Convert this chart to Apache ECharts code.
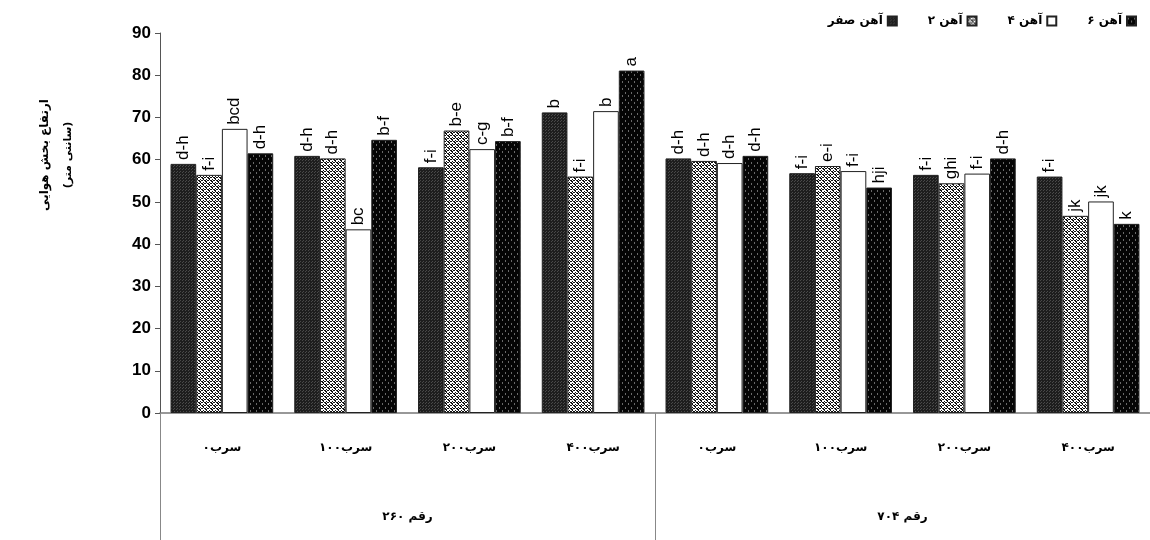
<!DOCTYPE html>
<html>
<head>
<meta charset="utf-8">
<script src="https://cdn.jsdelivr.net/npm/echarts@6/dist/echarts.min.js"></script>
<style>
html,body{margin:0;padding:0;background:#fff;}
#main{width:1150px;height:540px;}
</style>
</head>
<body>
<div id="main"></div>
<script>
// ---- data ----
const categories = ['سرب۰', 'سرب۱۰۰', 'سرب۲۰۰', 'سرب۴۰۰', 'سرب۰', 'سرب۱۰۰', 'سرب۲۰۰', 'سرب۴۰۰'];
const groups = ['رقم ۲۶۰', 'رقم ۷۰۴'];
const seriesNames = ['آهن صفر', 'آهن ۲', 'آهن ۴', 'آهن ۶'];
const iron0 = [59.0, 60.9, 58.2, 71.2, 60.3, 56.8, 56.4, 56.0];
const iron2 = [56.4, 60.3, 66.9, 56.0, 59.7, 58.5, 54.4, 46.7];
const iron4 = [67.3, 43.5, 62.5, 71.5, 59.2, 57.3, 56.7, 50.1];
const iron6 = [61.5, 64.7, 64.4, 81.1, 60.9, 53.4, 60.3, 44.8];
const letters0 = ['d-h', 'd-h', 'f-i', 'b', 'd-h', 'f-i', 'f-i', 'f-i'];
const letters2 = ['f-i', 'd-h', 'b-e', 'f-i', 'd-h', 'e-i', 'ghi', 'jk'];
const letters4 = ['bcd', 'bc', 'c-g', 'b', 'd-h', 'f-i', 'f-i', 'jk'];
const letters6 = ['d-h', 'b-f', 'b-f', 'a', 'd-h', 'hji', 'd-h', 'k'];
const yTicks = {min: 0, max: 90, interval: 10};

// ---- patterns ----
function makePattern(w, h, draw) {
  const c = document.createElement('canvas');
  c.width = w; c.height = h;
  const ctx = c.getContext('2d');
  draw(ctx);
  return {image: c, repeat: 'repeat'};
}
const pat0 = makePattern(3, 3, ctx => {
  ctx.fillStyle = '#1e1e1e'; ctx.fillRect(0, 0, 3, 3);
  ctx.fillStyle = '#4a4a4a'; ctx.fillRect(0, 0, 1, 1); ctx.fillRect(2, 1, 1, 1);
});
const pat2 = makePattern(6, 6, ctx => {
  ctx.fillStyle = '#ffffff'; ctx.fillRect(0, 0, 6, 6);
  ctx.fillStyle = '#111111';
  ctx.fillRect(0, 0, 2, 1); ctx.fillRect(1, 1, 2, 1); ctx.fillRect(3, 0, 2, 1);
  ctx.fillRect(3, 3, 2, 1); ctx.fillRect(4, 4, 2, 1); ctx.fillRect(0, 3, 2, 1);
  ctx.fillRect(2, 2, 1, 1); ctx.fillRect(5, 5, 1, 1); ctx.fillRect(5, 2, 1, 1); ctx.fillRect(2, 5, 1, 1);
});
const pat6 = makePattern(6, 7, ctx => {
  ctx.fillStyle = '#050505'; ctx.fillRect(0, 0, 6, 7);
  ctx.fillStyle = '#6a6a6a';
  ctx.fillRect(1, 1, 1, 2);
  ctx.fillRect(4, 4, 1, 2);
});

const fillList = [pat0, pat2, '#ffffff', pat6];
const valueList = [iron0, iron2, iron4, iron6];
const letterList = [letters0, letters2, letters4, letters6];

const chart = echarts.init(document.getElementById('main'));
const series = seriesNames.map((name, i) => ({
  name: name,
  type: 'bar',
  barGap: '0%',
  barCategoryGap: '17%',
  itemStyle: {color: fillList[i], borderColor: '#222', borderWidth: 1},
  label: {
    show: true,
    position: 'top',
    distance: 4,
    rotate: 90,
    align: 'left',
    verticalAlign: 'middle',
    fontFamily: 'Liberation Sans, Arial, sans-serif',
    fontSize: 17,
    color: '#000',
    formatter: p => letterList[i][p.dataIndex]
  },
  data: valueList[i]
}));

chart.setOption({
  animation: false,
  backgroundColor: '#fff',
  grid: {left: 160, right: 0, top: 33, bottom: 127},
  legend: {
    data: seriesNames,
    right: 8,
    top: 10,
    align: 'right',
    icon: 'rect',
    itemWidth: 9,
    itemHeight: 9,
    itemGap: 30,
    textStyle: {fontFamily: 'DejaVu Sans', fontWeight: 'bold', fontSize: 12, color: '#000'}
  },
  xAxis: [
    {
      type: 'category',
      data: categories,
      position: 'bottom',
      axisLine: {show: true, lineStyle: {color: '#777', width: 1.5}},
      axisTick: {show: false},
      axisLabel: {
        margin: 29,
        fontFamily: 'DejaVu Sans',
        fontWeight: 'bold',
        fontSize: 12,
        color: '#000'
      }
    },
    {
      type: 'category',
      data: groups,
      position: 'bottom',
      gridIndex: 0,
      axisLine: {show: false},
      axisTick: {show: true, length: 127, lineStyle: {color: '#888', width: 1}},
      axisLabel: {
        margin: 98,
        fontFamily: 'DejaVu Sans',
        fontWeight: 'bold',
        fontSize: 12,
        color: '#000'
      }
    }
  ],
  yAxis: {
    type: 'value',
    min: yTicks.min,
    max: yTicks.max,
    interval: yTicks.interval,
    splitLine: {show: false},
    axisLine: {show: true, lineStyle: {color: '#555', width: 1}},
    axisTick: {show: true, length: 5, lineStyle: {color: '#555'}},
    axisLabel: {
      margin: 9,
      fontFamily: 'Liberation Sans Narrow, Liberation Sans, Arial',
      fontWeight: 'bold',
      fontSize: 17,
      color: '#000'
    }
  },
  graphic: [
    {
      type: 'text', x: 45, y: 155, rotation: Math.PI / 2,
      style: {text: 'ارتفاع بخش هوایی', fontFamily: 'DejaVu Sans', fontWeight: 'bold', fontSize: 12, fill: '#000', align: 'center', verticalAlign: 'middle'}
    },
    {
      type: 'text', x: 68, y: 155, rotation: Math.PI / 2,
      style: {text: '(سانتی متر)', fontFamily: 'DejaVu Sans', fontWeight: 'bold', fontSize: 11, fill: '#000', align: 'center', verticalAlign: 'middle'}
    }
  ],
  series: series
});
</script>
</body>
</html>
